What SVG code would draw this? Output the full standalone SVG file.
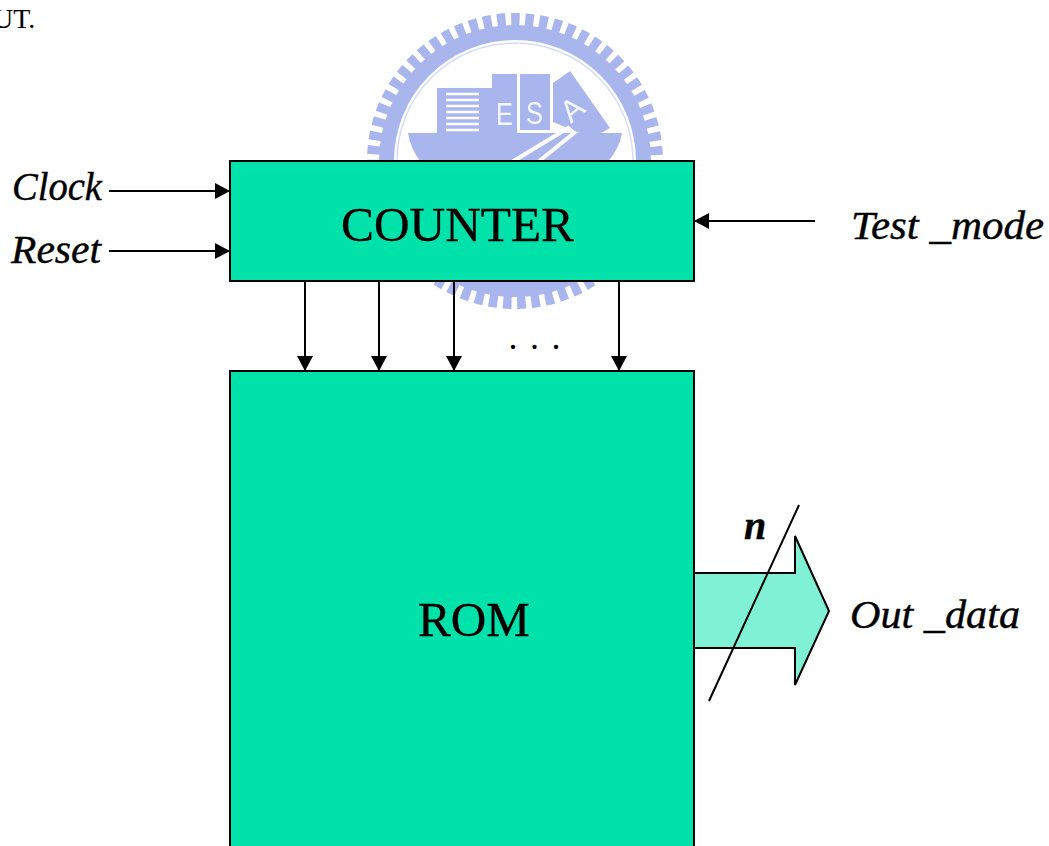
<svg xmlns="http://www.w3.org/2000/svg" width="1049" height="846" viewBox="0 0 1049 846">
<style>
text{font-family:"Liberation Serif","Times New Roman",serif;fill:#000}
.lbl{font-style:italic;font-size:40px;stroke:#000;stroke-width:.4}
.big{font-size:49.5px;stroke:#000;stroke-width:.3}
.box{fill:#00e2aa;stroke:#000;stroke-width:2}
.wire{fill:none;stroke:#000;stroke-width:2}
.wm{fill:#a9b6ee}
.wmw{fill:#f4f6fe;font-family:"Liberation Sans",Arial,sans-serif;font-size:31px}
</style>
<defs>
<marker id="ah" markerUnits="userSpaceOnUse" markerWidth="16" markerHeight="16" refX="15" refY="8" orient="auto"><path d="M0 0L15 8L0 16Z" fill="#000"/></marker>
<filter id="soft" x="-5%" y="-5%" width="110%" height="110%"><feGaussianBlur stdDeviation="0.7"/></filter>
</defs>
<rect width="1049" height="846" fill="#fff"/>
<text x="-7" y="28" font-size="28">UT.</text>
<g id="watermark" filter="url(#soft)">
<circle cx="515" cy="161" r="141.5" fill="none" stroke="#a9b6ee" stroke-width="13" stroke-dasharray="8.5 5.6"/>
<circle cx="515" cy="161" r="128.5" fill="none" stroke="#a9b6ee" stroke-width="15"/>
<circle cx="515" cy="161" r="118" fill="none" stroke="#d6dcf8" stroke-width="1.5"/>
<path class="wm" d="M408 133H622Q620 148 606 164H422Q410 148 408 133Z"/>
<rect class="wm" x="437" y="88" width="44" height="46"/>
<path d="M446 94H479M446 100H479M446 106H479M446 112H479M446 118H479M446 124H479M446 130H479" stroke="#fff" stroke-width="2.5"/>
<rect class="wm" x="481" y="88" width="11" height="46"/>
<rect class="wm" x="492" y="74" width="25" height="60"/>
<rect class="wm" x="520" y="74" width="30" height="56"/>
<path class="wm" d="M553 83L570 71L610 128L592 138L553 122Z"/>
<text class="wmw" x="496" y="125" textLength="17" lengthAdjust="spacingAndGlyphs">E</text>
<text class="wmw" x="526" y="124" textLength="17" lengthAdjust="spacingAndGlyphs">S</text>
<text class="wmw" transform="translate(571 124) rotate(-40)" font-size="26">A</text>
<path d="M512 162L568 128L574 133L538 162" fill="none" stroke="#fff" stroke-width="4"/>
</g>
<g id="connectors">
<path class="wire" marker-end="url(#ah)" d="M109 191H230"/>
<path class="wire" marker-end="url(#ah)" d="M109 251H230"/>
<path class="wire" marker-end="url(#ah)" d="M815 221H694"/>
<path class="wire" marker-end="url(#ah)" d="M305 282V371"/>
<path class="wire" marker-end="url(#ah)" d="M379 282V371"/>
<path class="wire" marker-end="url(#ah)" d="M454 282V371"/>
<path class="wire" marker-end="url(#ah)" d="M619 282V371"/>
</g>
<g id="counter">
<rect class="box" x="230" y="161" width="464" height="120"/>
<text class="big" x="341" y="241" textLength="233" lengthAdjust="spacingAndGlyphs">COUNTER</text>
</g>
<g id="rom">
<rect class="box" x="230" y="371" width="464" height="490"/>
<text class="big" x="418" y="636" textLength="112" lengthAdjust="spacingAndGlyphs">ROM</text>
</g>
<g id="out-arrow">
<path d="M694 573H795V536L829 611L795 685V648H694Z" fill="#80f1d4" stroke="#000" stroke-width="2"/>
<path class="wire" d="M799 505L709 701"/>
</g>
<g id="labels">
<text class="lbl" x="12" y="200" textLength="90" lengthAdjust="spacingAndGlyphs">Clock</text>
<text class="lbl" x="11" y="263" textLength="90" lengthAdjust="spacingAndGlyphs">Reset</text>
<text class="lbl" x="851" y="239" textLength="193" lengthAdjust="spacingAndGlyphs">Test _mode</text>
<text class="lbl" x="850" y="628" textLength="170" lengthAdjust="spacingAndGlyphs">Out _data</text>
<text class="lbl" x="744" y="539" font-weight="bold">n</text>
<text x="508.5" y="349" font-size="36" letter-spacing="1.75" xml:space="preserve">. . .</text>
</g>
</svg>
